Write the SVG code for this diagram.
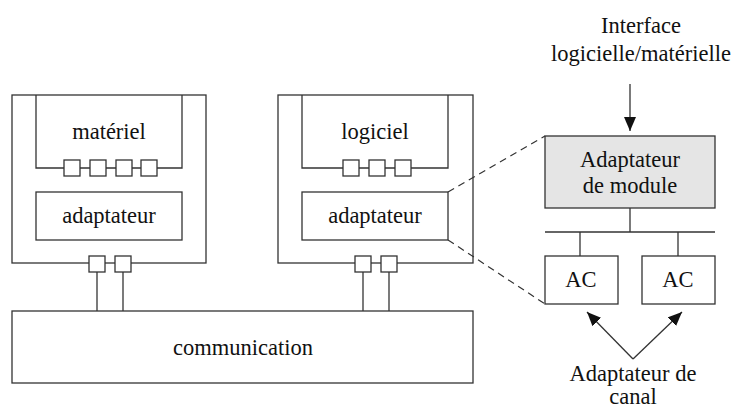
<svg xmlns="http://www.w3.org/2000/svg" width="734" height="408" viewBox="0 0 734 408">
<defs>
<marker id="ah2" viewBox="0 0 14 12" refX="14" refY="6" markerWidth="14" markerHeight="12" markerUnits="userSpaceOnUse" orient="auto">
<path d="M0,0 L14,6 L0,12 Z" fill="#111"/>
</marker>
</defs>
<style>
.b{fill:none;stroke:#333;stroke-width:1.3}
.w{fill:#fff;stroke:#333;stroke-width:1.3}
.g{fill:#e5e5e5;stroke:#333;stroke-width:1.3}
.l{fill:none;stroke:#333;stroke-width:1.3}
.d{fill:none;stroke:#333;stroke-width:1.2;stroke-dasharray:7 5}
text{font-family:'Liberation Serif','Times New Roman',serif;font-size:22.5px;fill:#111;text-anchor:middle}
</style>
<rect width="734" height="408" fill="#fff"/>
<g id="module-materiel">
<rect class="b" x="12" y="95" width="194" height="168"/>
<polyline class="b" points="36,95 36,168 182,168 182,95"/>
<text x="109" y="139">matériel</text>
<rect class="w" x="64" y="160" width="16" height="16"/>
<rect class="w" x="90" y="160" width="16" height="16"/>
<rect class="w" x="116" y="160" width="16" height="16"/>
<rect class="w" x="141" y="160" width="16" height="16"/>
<rect class="b" x="36" y="192" width="146" height="48"/>
<text x="109" y="223">adaptateur</text>
<rect class="w" x="89" y="256" width="16" height="16"/>
<rect class="w" x="115" y="256" width="16" height="16"/>
</g>
<g id="module-logiciel">
<rect class="b" x="278" y="95" width="195" height="168"/>
<polyline class="b" points="302,95 302,168 448,168 448,95"/>
<text x="375" y="139">logiciel</text>
<rect class="w" x="343" y="160" width="16" height="16"/>
<rect class="w" x="369" y="160" width="16" height="16"/>
<rect class="w" x="395" y="160" width="16" height="16"/>
<rect class="b" x="302" y="192" width="146" height="48"/>
<text x="375" y="223">adaptateur</text>
<rect class="w" x="355" y="256" width="16" height="16"/>
<rect class="w" x="381" y="256" width="16" height="16"/>
</g>
<g id="communication">
<rect class="b" x="12" y="311" width="461" height="72"/>
<text x="243" y="355">communication</text>
</g>
<g id="adaptateur-module">
<rect class="g" x="545" y="136" width="170" height="72"/>
<text x="630" y="167">Adaptateur</text>
<text x="630" y="193">de module</text>
</g>
<g id="ac1">
<rect class="b" x="545" y="256" width="73" height="48"/>
<text x="581" y="287">AC</text>
</g>
<g id="ac2">
<rect class="b" x="642" y="256" width="73" height="48"/>
<text x="678" y="287">AC</text>
</g>
<g id="label-interface">
<text x="641" y="33">Interface</text>
<text x="641" y="61">logicielle/matérielle</text>
</g>
<g id="label-canal">
<text x="633" y="381">Adaptateur de</text>
<text x="633" y="404">canal</text>
</g>
<g id="connectors">
<line class="l" x1="97" y1="272" x2="97" y2="311"/>
<line class="l" x1="123" y1="272" x2="123" y2="311"/>
<line class="l" x1="363" y1="272" x2="363" y2="311"/>
<line class="l" x1="389" y1="272" x2="389" y2="311"/>
<line class="d" x1="448" y1="192" x2="545" y2="136"/>
<line class="d" x1="448" y1="240" x2="545" y2="304"/>
<line class="l" x1="630" y1="84" x2="630" y2="131" marker-end="url(#ah2)"/>
<line class="l" x1="630" y1="208" x2="630" y2="232"/>
<line class="l" x1="545" y1="232" x2="715" y2="232"/>
<line class="l" x1="580" y1="232" x2="580" y2="256"/>
<line class="l" x1="678" y1="232" x2="678" y2="256"/>
<line class="l" x1="633" y1="359" x2="587" y2="312" marker-end="url(#ah2)"/>
<line class="l" x1="633" y1="359" x2="682" y2="312" marker-end="url(#ah2)"/>
</g>
</svg>
